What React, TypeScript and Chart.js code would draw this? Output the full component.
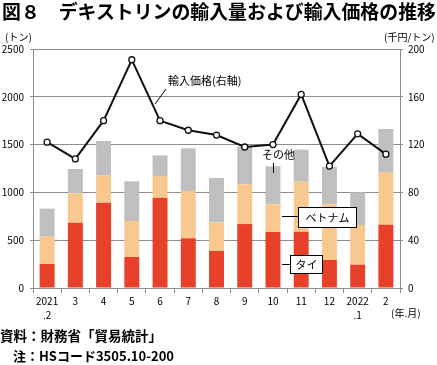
import React, { useEffect, useRef } from "react";
import { Chart, registerables } from "chart.js";

Chart.register(...registerables);

const months: (string | string[])[] = [["2021", ".2"], "3", "4", "5", "6", "7", "8", "9", "10", "11", "12", ["2022", ".1"], "2"];
const thai = [251, 683, 892, 324, 945, 520, 387, 669, 586, 589, 293, 244, 662];
const vietnam = [286, 307, 287, 377, 227, 495, 300, 416, 289, 523, 582, 415, 544];
const others = [293, 255, 359, 415, 216, 446, 464, 395, 398, 335, 391, 342, 457];
const price = [122, 108, 140, 191, 140, 132, 128, 118, 120, 162, 102, 129, 112];

const FONT = '"Noto Sans CJK JP", "Noto Sans", sans-serif';
const GRID = "#8c8c8c";

function makePattern(): CanvasPattern | string {
  const c = document.createElement("canvas");
  c.width = 4;
  c.height = 4;
  const g = c.getContext("2d");
  if (!g) return "#f9c98f";
  g.fillStyle = "#f8c58a";
  g.fillRect(0, 0, 4, 4);
  g.fillStyle = "#fbd8ac";
  g.fillRect(0, 0, 1, 1);
  g.fillRect(2, 2, 1, 1);
  const p = g.createPattern(c, "repeat");
  return p || "#f9c98f";
}

const annotations = {
  id: "annotations",
  afterDraw(chart: any) {
    const ctx = chart.ctx as CanvasRenderingContext2D;
    ctx.save();
    ctx.strokeStyle = "#000";
    ctx.lineWidth = 1;
    ctx.fillStyle = "#000";
    ctx.font = `11px ${FONT}`;
    ctx.textBaseline = "middle";
    ctx.textAlign = "left";
    // price label
    ctx.beginPath();
    ctx.moveTo(155, 104);
    ctx.lineTo(166, 89);
    ctx.stroke();
    ctx.fillText("輸入価格(右軸)", 168, 81);
    // others
    ctx.fillText("その他", 262, 155);
    ctx.beginPath();
    ctx.moveTo(273.5, 163);
    ctx.lineTo(273.5, 173);
    ctx.stroke();
    // vietnam
    ctx.beginPath();
    ctx.moveTo(282, 216.5);
    ctx.lineTo(298, 216.5);
    ctx.stroke();
    ctx.fillStyle = "#fff";
    ctx.fillRect(298.5, 207.5, 58, 20);
    ctx.strokeRect(298.5, 207.5, 58, 20);
    ctx.fillStyle = "#000";
    ctx.textAlign = "center";
    ctx.fillText("ベトナム", 327.5, 217.5);
    // thai
    ctx.beginPath();
    ctx.moveTo(282, 264.5);
    ctx.lineTo(290, 264.5);
    ctx.stroke();
    ctx.fillStyle = "#fff";
    ctx.fillRect(290.5, 255.5, 32, 18);
    ctx.strokeRect(290.5, 255.5, 32, 18);
    ctx.fillStyle = "#000";
    ctx.fillText("タイ", 306.5, 264.5);
    ctx.restore();
  },
};

export default function App() {
  const ref = useRef<HTMLCanvasElement>(null);
  useEffect(() => {
    document.body.style.margin = "0";
    if (!ref.current) return;
    const pattern = makePattern();
    const chart = new Chart(ref.current, {
      type: "bar",
      data: {
        labels: months as any,
        datasets: [
          {
            type: "line",
            label: "輸入価格",
            data: price,
            yAxisID: "y1",
            borderColor: "#111",
            borderWidth: 2,
            pointRadius: 3,
            pointBackgroundColor: "#fff",
            pointBorderColor: "#111",
            pointBorderWidth: 1.3,
            tension: 0,
            order: 0,
          } as any,
          { label: "タイ", data: thai, backgroundColor: "#e8412a", barPercentage: 0.53, categoryPercentage: 1, order: 1, yAxisID: "y" },
          { label: "ベトナム", data: vietnam, backgroundColor: pattern as any, barPercentage: 0.53, categoryPercentage: 1, order: 2, yAxisID: "y" },
          { label: "その他", data: others, backgroundColor: "#bfbfbf", barPercentage: 0.53, categoryPercentage: 1, order: 3, yAxisID: "y" },
        ],
      },
      options: {
        animation: false,
        responsive: true,
        maintainAspectRatio: false,
        layout: { padding: { top: 49, left: 0, right: 0, bottom: 0 } },
        plugins: { legend: { display: false }, tooltip: { enabled: false } },
        scales: {
          x: {
            stacked: true,
            afterFit: (s: any) => { s.height = 77; },
            grid: { display: true, drawOnChartArea: false, drawTicks: true, tickLength: 5, offset: true, color: GRID },
            border: { display: true, color: GRID },
            ticks: { color: "#000", font: { family: FONT, size: 10, lineHeight: 1.4 }, padding: 1, maxRotation: 0, autoSkip: false },
          },
          y: {
            stacked: true,
            position: "left",
            min: 0,
            max: 2500,
            afterFit: (s: any) => { s.width = 33; },
            grid: { color: GRID, tickLength: 3 },
            border: { display: true, color: GRID },
            ticks: { stepSize: 500, color: "#000", font: { family: FONT, size: 10 }, padding: 6, callback: (v: any) => String(v) },
          },
          y1: {
            position: "right",
            min: 0,
            max: 200,
            afterFit: (s: any) => { s.width = 37; },
            grid: { drawOnChartArea: false, color: GRID, tickLength: 3 },
            border: { display: true, color: GRID },
            ticks: { stepSize: 40, color: "#000", font: { family: FONT, size: 10 }, padding: 5, callback: (v: any) => String(v) },
          },
        },
      },
      plugins: [annotations],
    });
    return () => chart.destroy();
  }, []);

  const abs = (s: React.CSSProperties): React.CSSProperties => ({ position: "absolute", whiteSpace: "nowrap", fontFamily: FONT, color: "#000", lineHeight: 1, ...s });

  return (
    <div style={{ position: "relative", width: 437, height: 365, background: "#fff", overflow: "hidden" }}>
      <canvas ref={ref} style={{ position: "absolute", left: 0, top: 0 }} />
      <div style={abs({ left: 2, top: 2, fontSize: 18.9, fontWeight: 700 })}>図８　デキストリンの輸入量および輸入価格の推移</div>
      <div style={abs({ left: 5, top: 32, fontSize: 10 })}>(トン)</div>
      <div style={abs({ left: 384, top: 32, fontSize: 10 })}>(千円/トン)</div>
      <div style={abs({ left: 391, top: 308, fontSize: 10 })}>(年.月)</div>
      <div style={abs({ left: 0, top: 329, fontSize: 13.5, fontWeight: 700 })}>資料：財務省「貿易統計」</div>
      <div style={abs({ left: 13, top: 349, fontSize: 13, fontWeight: 700 })}>注：HSコード3505.10-200</div>
    </div>
  );
}
